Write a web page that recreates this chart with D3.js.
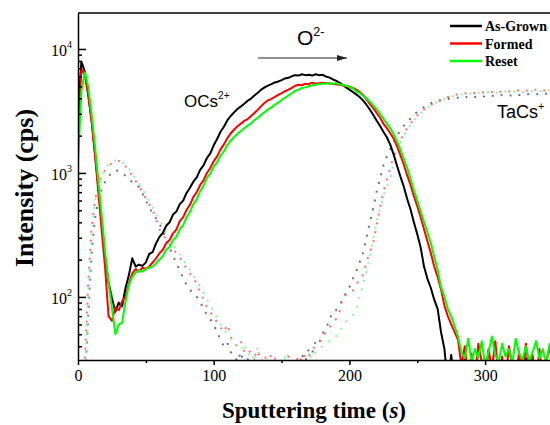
<!DOCTYPE html>
<html>
<head>
<meta charset="utf-8">
<script src="https://cdn.jsdelivr.net/npm/d3@7"></script>
<style>
  body { margin: 0; background: #fff; }
  .axis path, .axis line { stroke: #000; stroke-width: 1.5; }
  .axis text { font-family: "Liberation Serif", serif; font-size: 16px; fill: #000; }
</style>
</head>
<body>
<script>
// sputtering time grid (s), one sample every 2.5 s
var times = d3.range(0, 350.01, 2.5)

// OCs2+ counts (solid lines)
var ocsGrown = [3000,7900,6600,4300,2700,1450,760,390,210,130,
  98,76,90,84,118,150,205,176,182,178,
  190,222,230,270,305,328,375,400,462,488,
  560,598,690,760,850,920,1060,1150,1320,1440,
  1670,1880,2150,2360,2650,2880,3080,3280,3440,3620,
  3820,3980,4220,4430,4700,4900,5060,5200,5370,5470,
  5600,5780,5850,6020,6150,6100,6250,6150,6200,6100,
  6250,6150,6200,6000,5900,5700,5550,5350,5150,4900,
  4700,4500,4300,4100,3850,3550,3250,2950,2650,2400,
  2150,1950,1700,1420,1150,940,780,620,510,400,
  320,250,175,140,118,95,80,52,38,20,
  34,20,20,20,33,20,20,20,20,20,
  20,20,20,20,20,20,20,20,20,20,
  20,20,32,20,20,20,20,20,20,20,
  20]
var ocsFormed = [2000,6900,6200,4300,2600,1400,700,340,170,70,
  64,82,78,92,100,128,155,168,160,172,
  168,176,190,205,225,240,272,288,326,350,
  408,440,505,552,640,700,800,870,1000,1100,
  1245,1360,1550,1700,1910,2080,2240,2380,2500,2630,
  2720,2880,3040,3240,3460,3680,3850,3960,4100,4260,
  4400,4560,4700,4860,5050,5150,5100,5250,5200,5350,
  5250,5300,5350,5300,5300,5250,5200,5150,5100,5000,
  4950,4850,4700,4500,4250,3950,3600,3350,3050,2800,
  2500,2300,2100,1900,1650,1400,1170,960,800,650,
  540,440,350,280,225,175,145,115,85,70,
  60,52,45,28,40,22,35,22,42,30,
  20,38,26,44,22,33,20,40,28,22,
  36,20,42,25,34,20,38,22,30,40,
  24]
var ocsReset = [1200,4600,6500,5000,3000,1650,850,450,230,130,
  82,50,60,62,92,125,145,158,162,160,
  168,172,176,186,200,214,240,254,288,306,
  350,380,438,484,560,612,712,785,912,990,
  1125,1215,1380,1490,1680,1820,1950,2070,2180,2290,
  2410,2510,2670,2790,2960,3090,3260,3380,3560,3690,
  3880,4040,4210,4390,4600,4700,4850,4900,5000,5100,
  5150,5200,5250,5250,5300,5250,5300,5200,5150,5050,
  4950,4800,4550,4400,4200,4000,3750,3500,3250,3000,
  2750,2500,2300,2050,1800,1550,1300,1100,900,720,
  600,490,400,330,270,210,165,120,100,80,
  70,58,48,36,32,46,30,38,32,44,
  28,36,48,34,30,42,33,38,29,46,
  35,31,40,30,36,44,32,38,28,42,
  34]

// TaCs+ counts (dotted lines)
var taGrown = [10,10,18,70,220,430,600,740,850,940,
  1000,1050,1040,1000,950,890,840,800,770,680,
  600,530,470,430,390,340,290,250,215,185,
  165,140,125,115,105,100,92,80,72,66,
  60,52,45,40,43,36,34,30,36,28,
  32,22,30,25,31,22,20,27,22,20,
  24,20,28,20,31,24,34,30,38,35,
  44,42,50,56,63,76,78,85,95,108,
  120,140,160,190,225,300,395,520,700,900,
  1150,1350,1550,1780,2000,2200,2400,2600,2750,2950,
  3100,3250,3400,3550,3650,3750,3800,3850,3900,3950,
  4000,4050,4050,4100,4050,4150,4100,4100,4150,4200,
  4100,4150,4200,4150,4200,4250,4200,4200,4250,4300,
  4250,4250,4300,4350,4300,4300,4350,4400,4350,4400,
  4400]
var taFormed = [10,12,30,130,360,600,800,950,1050,1130,
  1200,1240,1250,1210,1130,1040,950,860,780,700,
  620,560,500,420,350,320,290,265,245,225,
  210,185,170,155,145,125,110,95,83,75,
  70,62,57,52,60,48,42,40,44,36,
  38,35,33,37,30,34,28,35,32,25,
  30,22,33,31,28,34,30,35,33,38,
  40,43,46,52,56,62,66,74,100,104,
  108,112,125,140,150,190,230,270,380,520,
  700,870,1100,1350,1600,1850,2050,2300,2500,2700,
  2900,3100,3250,3400,3550,3650,3800,3900,4000,4100,
  4150,4250,4300,4350,4400,4350,4450,4400,4500,4450,
  4500,4550,4500,4450,4550,4500,4600,4550,4500,4600,
  4650,4550,4600,4650,4600,4700,4650,4600,4650,4700,
  4650]
var taReset = [10,10,22,100,320,580,800,960,1080,1170,
  1230,1260,1270,1230,1160,1080,990,900,820,740,
  660,590,530,470,420,370,330,295,265,240,
  222,200,180,165,150,135,120,108,96,86,
  76,68,60,55,50,46,44,40,37,42,
  34,36,30,40,28,33,25,30,22,29,
  26,32,25,30,24,31,28,30,34,32,
  36,38,40,42,44,46,48,52,58,63,
  68,72,80,100,125,160,210,290,400,520,
  650,760,900,1150,1450,1750,2000,2250,2450,2650,
  2850,3050,3200,3350,3500,3650,3750,3850,3950,4050,
  4100,4200,4250,4300,4350,4300,4400,4350,4450,4400,
  4450,4500,4450,4400,4500,4450,4550,4500,4450,4550,
  4600,4500,4550,4600,4550,4650,4600,4550,4600,4650,
  4600]

var sampleNames = ["As-Grown", "Formed", "Reset"]
var xTicks = [0, 100, 200, 300]
var xMinor = [50, 150, 250]
var yTicks = [100, 1000, 10000]
var yMinor = [40,50,60,70,80,90,200,300,400,500,600,700,800,900,
  2000,3000,4000,5000,6000,7000,8000,9000]

var lineColors = ["#000000", "#ff0000", "#00ff00"]
var dotColors = ["#5a5a5a", "#ff5a5a", "#86f086"]

var width = 550, height = 425
var margin = {top: 13, right: 553, bottom: 360, left: 78}

var svg = d3.select("body").append("svg")
    .attr("width", width)
    .attr("height", height)

var xScale = d3.scaleLinear().domain([0, 350]).range([margin.left, margin.right])
var yScale = d3.scaleLog().domain([31, 19500]).range([margin.bottom, margin.top])

svg.append("clipPath").attr("id", "plot-clip")
  .append("rect")
    .attr("x", margin.left).attr("y", margin.top)
    .attr("width", margin.right - margin.left)
    .attr("height", margin.bottom - margin.top)

var line = d3.line()
    .x(function(d, i) { return xScale(times[i]); })
    .y(function(d) { return yScale(d); })

var plot = svg.append("g").attr("clip-path", "url(#plot-clip)")

// TaCs+ dotted
var taSeries = [taGrown, taFormed, taReset]
taSeries.forEach(function(s, k) {
  plot.append("path")
    .datum(s)
    .attr("d", line)
    .attr("fill", "none")
    .attr("stroke", dotColors[k])
    .attr("stroke-width", 2)
    .attr("stroke-dasharray", "2,7")
    .attr("opacity", 0.85)
})

// OCs2+ solid
var ocsSeries = [ocsGrown, ocsFormed, ocsReset]
ocsSeries.forEach(function(s, k) {
  plot.append("path")
    .datum(s)
    .attr("d", line)
    .attr("fill", "none")
    .attr("stroke", lineColors[k])
    .attr("stroke-width", 2)
    .attr("stroke-linejoin", "round")
})

// frame top
svg.append("line")
    .attr("x1", margin.left).attr("x2", margin.right)
    .attr("y1", margin.top).attr("y2", margin.top)
    .attr("stroke", "#000").attr("stroke-width", 1.5)

// x axis
svg.append("g")
    .attr("class", "axis")
    .attr("transform", "translate(0," + margin.bottom + ")")
    .call(d3.axisBottom(xScale).tickValues(xTicks).tickSizeInner(5).tickSizeOuter(0).tickPadding(5).tickFormat(d3.format("d")))

svg.append("g")
    .attr("class", "axis")
    .attr("transform", "translate(0," + margin.bottom + ")")
    .call(d3.axisBottom(xScale).tickValues(xMinor).tickSizeInner(3).tickSizeOuter(0).tickFormat(""))
    .select(".domain").remove()

// y axis, ticks pointing inward
var yAxis = svg.append("g")
    .attr("class", "axis")
    .attr("transform", "translate(" + margin.left + ",0)")
    .call(d3.axisLeft(yScale).tickValues(yTicks).tickSizeInner(-8).tickSizeOuter(0).tickPadding(6))

yAxis.selectAll(".tick text")
    .text("10")
    .attr("dy", "0.4em")
  .append("tspan")
    .attr("dy", "-0.75em")
    .attr("font-size", "10px")
    .text(function(d) { return Math.round(Math.log10(d)); })

svg.append("g")
    .attr("class", "axis")
    .attr("transform", "translate(" + margin.left + ",0)")
    .call(d3.axisLeft(yScale).tickValues(yMinor).tickSizeInner(-4).tickSizeOuter(0).tickFormat(""))
    .select(".domain").remove()

// axis titles
var xTitle = svg.append("text")
    .attr("x", 314).attr("y", 418)
    .attr("text-anchor", "middle")
    .style("font-family", "Liberation Serif, serif")
    .style("font-weight", "bold")
    .style("font-size", "23px")
xTitle.append("tspan").text("Sputtering time (")
xTitle.append("tspan").style("font-style", "italic").text("s")
xTitle.append("tspan").text(")")

svg.append("text")
    .attr("transform", "translate(33,188)rotate(-90)")
    .attr("text-anchor", "middle")
    .style("font-family", "Liberation Serif, serif")
    .style("font-weight", "bold")
    .style("font-size", "26px")
    .text("Intensity (cps)")

// legend
sampleNames.forEach(function(name, k) {
  var ly = 26 + k * 17.5
  svg.append("line")
    .attr("x1", 450).attr("x2", 482)
    .attr("y1", ly).attr("y2", ly)
    .attr("stroke", lineColors[k]).attr("stroke-width", 2.5)
  svg.append("text")
    .attr("x", 485).attr("y", ly + 5)
    .style("font-family", "Liberation Serif, serif")
    .style("font-weight", "bold")
    .style("font-size", "14px")
    .text(name)
})

// annotations
function label(x, y, main, sup, size) {
  var t = svg.append("text")
    .attr("x", x).attr("y", y)
    .style("font-family", "Liberation Sans, Arial, sans-serif")
    .style("font-size", size + "px")
  t.append("tspan").text(main)
  t.append("tspan").attr("dy", -size * 0.45).style("font-size", (size * 0.6) + "px").text(sup)
}
label(297, 45, "O", "2-", 21)
label(184, 107, "OCs", "2+", 17)
label(497, 118, "TaCs", "+", 18)

svg.append("defs").append("marker")
    .attr("id", "arrow")
    .attr("viewBox", "0 0 10 6")
    .attr("refX", 10).attr("refY", 3)
    .attr("markerWidth", 10).attr("markerHeight", 6)
    .attr("markerUnits", "userSpaceOnUse")
    .attr("orient", "auto")
  .append("path")
    .attr("d", "M0,0L10,3L0,6Z")
    .attr("fill", "#222")

svg.append("line")
    .attr("x1", 258).attr("x2", 347)
    .attr("y1", 58).attr("y2", 58)
    .attr("stroke", "#222").attr("stroke-width", 1)
    .attr("marker-end", "url(#arrow)")
</script>
</body>
</html>
